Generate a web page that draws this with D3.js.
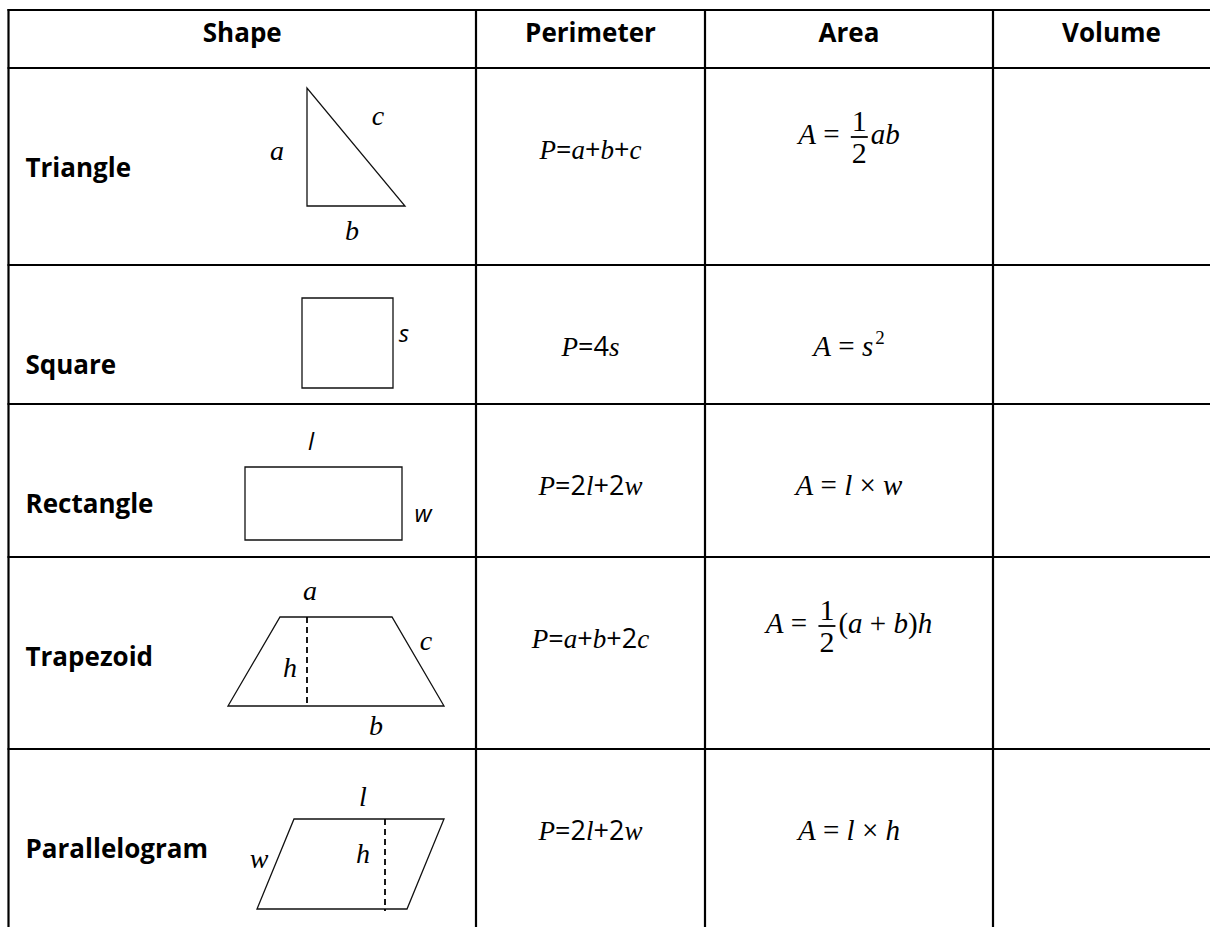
<!DOCTYPE html>
<html>
<head>
<meta charset="utf-8">
<script src="https://cdn.jsdelivr.net/npm/d3@7"></script>
<style>
  body { margin: 0; background: #fff; }
  svg { display: block; }
  .head, .name { font-family: 'Open Sans', sans-serif; font-weight: 700; fill: #000; }
  .mi { font-family: 'Liberation Serif', serif; font-style: italic; }
  .mu { font-family: 'Liberation Serif', serif; }
  .su { font-family: 'Open Sans', sans-serif; }
  .ti { font-family: 'Open Sans', sans-serif; font-style: italic; }
</style>
</head>
<body>
<div id="chart"></div>
<script>
// table content
const columns = ['Shape', 'Perimeter', 'Area', 'Volume'];
const shapes = ['Triangle', 'Square', 'Rectangle', 'Trapezoid', 'Parallelogram'];
const perimeters = ['P=a+b+c', 'P=4s', 'P=2l+2w', 'P=a+b+2c', 'P=2l+2w'];
// {n/d} = fraction, ^n = superscript
const areas = ['A = {1/2}ab', 'A = s^2', 'A = l × w', 'A = {1/2}(a + b)h', 'A = l × h'];
const volumes = ['', '', '', '', ''];
const sideLabels = [['a', 'c', 'b'], ['s'], ['l', 'w'], ['a', 'c', 'h', 'b'], ['l', 'w', 'h']];

// layout
const width = 1210, height = 927;
const colEdges = [8.5, 476, 705, 993, 1230];
const rowEdges = [10, 68, 265, 404, 557, 749, 960];

const x = d3.scaleOrdinal().domain(columns).range(colEdges.slice(0, 4));
const colMid = c => (x(c) + colEdges[columns.indexOf(c) + 1]) / 2;
const y = d3.scaleOrdinal().domain(shapes).range(rowEdges.slice(1, 6));

const svg = d3.select('#chart').append('svg')
  .attr('width', width)
  .attr('height', height);

// grid
svg.append('g').selectAll('line.h')
  .data(rowEdges.slice(0, 6))
  .enter().append('line')
    .attr('x1', colEdges[0] - 1).attr('x2', width + 10)
    .attr('y1', d => d).attr('y2', d => d)
    .attr('stroke', '#000').attr('stroke-width', 2.2);

svg.append('g').selectAll('line.v')
  .data(colEdges.slice(0, 4))
  .enter().append('line')
    .attr('x1', d => d).attr('x2', d => d)
    .attr('y1', rowEdges[0] - 1).attr('y2', height + 10)
    .attr('stroke', '#000').attr('stroke-width', 2.2);

// header
svg.append('g').selectAll('text')
  .data(columns)
  .enter().append('text')
    .attr('class', 'head')
    .attr('x', d => colMid(d))
    .attr('y', rowEdges[0] + 32)
    .attr('text-anchor', 'middle')
    .style('font-size', '26px')
    .text(d => d);

// figures, drawn in row-local coordinates
const line = d3.line();
const figures = {
  Triangle: { poly: [[307, 20], [307, 138], [405, 138]], labels: [[277, 92], [378, 57], [352, 172]], font: 'mi' },
  Square: { poly: [[302, 33], [393, 33], [393, 123], [302, 123]], labels: [[404, 77]], font: 'ti' },
  Rectangle: { poly: [[245, 63], [402, 63], [402, 136], [245, 136]], labels: [[311, 46], [423, 118]], font: 'ti' },
  Trapezoid: { poly: [[280, 60], [392, 60], [444, 149], [228, 149]], dash: [[307, 60], [307, 149]],
    labels: [[310, 43], [426, 93], [290, 120], [376, 178]], font: 'mi' },
  Parallelogram: { poly: [[294, 70], [444, 70], [407, 160], [257, 160]], dash: [[385, 70], [385, 162]],
    labels: [[363, 57], [259, 119], [363, 114]], font: 'mi' }
};

function addRich(sel, str, italicCls, uprightCls) {
  // letters italic, digits & operators upright
  str.match(/[A-Za-z]+|[^A-Za-z]+/g).forEach(tok => {
    sel.append('tspan')
      .attr('class', /[A-Za-z]/.test(tok) ? italicCls : uprightCls)
      .text(tok);
  });
}

const rows = svg.selectAll('g.row')
  .data(shapes)
  .enter().append('g')
    .attr('class', 'row')
    .attr('transform', d => 'translate(0,' + y(d) + ')');

rows.each(function(shape, i) {
  const g = d3.select(this);
  const fig = figures[shape];

  g.append('text')
    .attr('class', 'name')
    .attr('x', x('Shape') + 17)
    .attr('y', 109)
    .style('font-size', '26px')
    .text(shape);

  g.append('path')
    .attr('d', line(fig.poly) + 'Z')
    .attr('fill', 'none')
    .attr('stroke', '#111')
    .attr('stroke-width', 1.3);

  if (fig.dash) {
    g.append('path')
      .attr('d', line(fig.dash))
      .attr('stroke', '#000')
      .attr('stroke-width', 1.8)
      .attr('stroke-dasharray', '6,4');
  }

  sideLabels[i].forEach((lab, k) => {
    g.append('text')
      .attr('class', fig.font)
      .attr('x', fig.labels[k][0])
      .attr('y', fig.labels[k][1])
      .attr('text-anchor', 'middle')
      .style('font-size', fig.font == 'mi' ? '28px' : '24px')
      .text(lab);
  });

  // perimeter
  const pt = g.append('text')
    .attr('x', colMid('Perimeter'))
    .attr('y', 91)
    .attr('text-anchor', 'middle')
    .style('font-size', '27px');
  addRich(pt, perimeters[i], 'mi', 'su');

  // area, laid out piece by piece
  const hasFrac = areas[i].indexOf('{') >= 0;
  const base = hasFrac ? 76 : 91;
  const ag = g.append('g');
  let cursor = 0;
  areas[i].match(/\{\d+\/\d+\}|\^\d+|[^{^]+/g).forEach(piece => {
    if (piece[0] == '{') {
      const nd = piece.slice(1, -1).split('/');
      const num = ag.append('text').attr('class', 'mu').style('font-size', '30px')
        .attr('y', base - 13).attr('text-anchor', 'middle').text(nd[0]);
      const den = ag.append('text').attr('class', 'mu').style('font-size', '30px')
        .attr('y', base + 19).attr('text-anchor', 'middle').text(nd[1]);
      const w = Math.max(num.node().getComputedTextLength(), den.node().getComputedTextLength()) + 2;
      const cx = cursor + 4 + w / 2;
      num.attr('x', cx);
      den.attr('x', cx);
      ag.append('line')
        .attr('x1', cursor + 4).attr('x2', cursor + 4 + w)
        .attr('y1', base - 7).attr('y2', base - 7)
        .attr('stroke', '#000').attr('stroke-width', 1.8);
      cursor += w + 7;
    } else if (piece[0] == '^') {
      const t = ag.append('text').attr('class', 'mu').style('font-size', '19px')
        .attr('x', cursor + 2).attr('y', base - 12).text(piece.slice(1));
      cursor += t.node().getComputedTextLength() + 2;
    } else {
      const t = ag.append('text')
        .attr('x', cursor).attr('y', base)
        .style('font-size', '29px')
        .style('white-space', 'pre');
      addRich(t, piece, 'mi', 'mu');
      cursor += t.node().getComputedTextLength();
    }
  });
  ag.attr('transform', 'translate(' + (colMid('Area') - cursor / 2) + ',0)');

  // volume (empty in the source)
  g.append('text')
    .attr('x', colMid('Volume'))
    .attr('y', 91)
    .attr('text-anchor', 'middle')
    .style('font-size', '26px')
    .text(volumes[i]);
});
</script>
</body>
</html>
